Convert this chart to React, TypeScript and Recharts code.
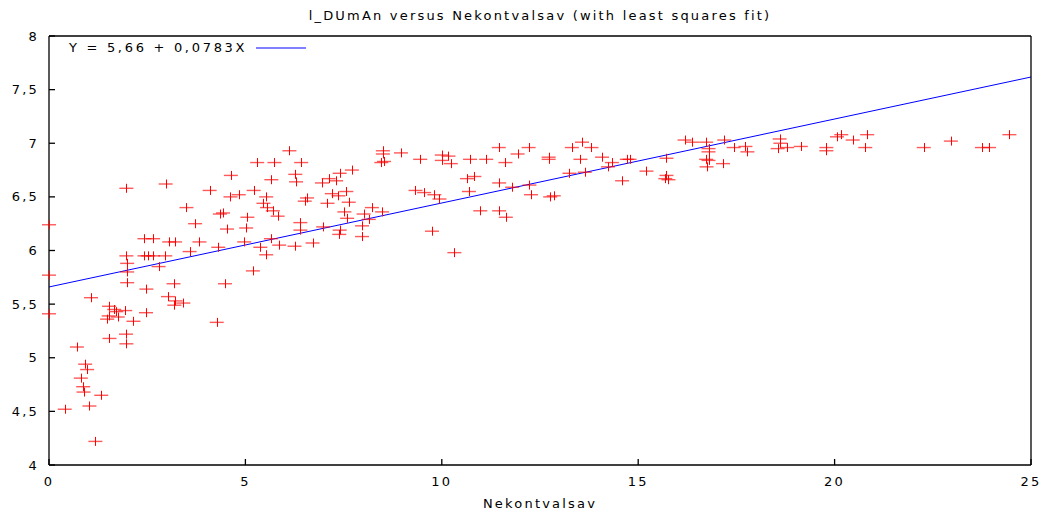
import React from 'react';
import { ScatterChart, Scatter, XAxis, YAxis, ReferenceLine, Legend } from 'recharts';

const chartTitle = 'l_DUmAn versus Nekontvalsav (with least squares fit)';
const xAxisLabel = 'Nekontvalsav';
const xTicks = [0, 5, 10, 15, 20, 25];
const yTicks = [4, 4.5, 5, 5.5, 6, 6.5, 7, 7.5, 8];

const fitIntercept = 5.66;
const fitSlope = 0.0783;
const fitRange = [0, 25];
const fitLabel = 'Y = 5,66 + 0,0783X';

const nekontvalsav = [
  0.0, 0.0, 0.0, 0.40, 0.71, 0.92, 0.97, 0.81, 0.87, 0.88,
  1.33, 1.03, 1.18, 1.07, 1.53, 1.52, 1.66, 1.71, 1.75, 1.48,
  1.94, 2.15, 1.54, 1.96, 1.97, 2.47, 2.48, 1.99, 1.99, 1.99,
  1.97, 1.97, 2.97, 2.43, 2.65, 2.43, 2.52, 2.65, 2.96, 2.79,
  3.06, 3.21, 3.58, 3.83, 4.31, 4.97, 5.19, 4.48, 3.17, 3.03,
  3.22, 3.19, 3.42, 4.27, 3.50, 3.72, 4.09, 4.63, 4.62, 4.83,
  4.35, 4.43, 4.53, 5.02, 5.05, 5.21, 6.12, 5.30, 5.74, 6.42,
  6.27, 6.29, 5.66, 5.53, 5.46, 5.55, 5.70, 5.82, 6.40, 6.40,
  6.98, 7.40, 7.39, 7.12, 7.40, 7.71, 7.31, 6.95, 7.20, 7.57,
  7.63, 7.37, 7.09, 6.51, 6.57, 7.52, 7.59, 5.65, 5.38, 5.53,
  5.86, 6.25, 6.71, 8.50, 8.50, 8.96, 8.46, 8.53, 9.45, 10.00,
  10.17, 10.00, 10.23, 10.72, 11.13, 11.45, 11.62, 11.93, 8.01, 8.22,
  8.48, 8.14, 7.97, 7.97, 9.33, 9.55, 9.81, 9.94, 9.75, 10.32,
  10.64, 10.83, 10.69, 10.98, 11.46, 11.63, 11.46, 11.79, 12.21, 12.72,
  12.72, 13.31, 13.57, 13.81, 13.53, 14.08, 14.33, 14.71, 14.78, 15.72,
  14.59, 15.21, 15.72, 15.69, 15.77, 14.23, 13.64, 13.25, 12.23, 12.27,
  12.76, 12.85, 16.18, 16.37, 16.73, 17.19, 17.43, 17.73, 17.78, 16.79,
  16.79, 16.73, 16.79, 16.74, 17.16, 18.60, 18.62, 18.55, 18.79, 19.14,
  19.79, 19.79, 20.06, 20.17, 20.46, 20.83, 20.78, 22.27, 22.96, 23.75,
  23.93, 24.45,
];

const lDUmAn = [
  6.24, 5.77, 5.41, 4.52, 5.10, 4.94, 4.89, 4.81, 4.73, 4.68,
  4.65, 4.55, 4.22, 5.56, 5.48, 5.39, 5.45, 5.43, 5.38, 5.36,
  5.44, 5.34, 5.18, 5.22, 5.13, 5.42, 5.64, 5.70, 5.80, 5.88,
  5.95, 6.58, 6.62, 6.11, 6.11, 5.95, 5.95, 5.95, 5.95, 5.85,
  6.08, 6.08, 5.99, 6.08, 6.03, 6.08, 5.81, 5.69, 5.69, 5.57,
  5.53, 5.49, 5.51, 5.33, 6.40, 6.25, 6.56, 6.70, 6.50, 6.52,
  6.34, 6.35, 6.20, 6.21, 6.31, 6.56, 6.93, 6.82, 6.82, 6.82,
  6.71, 6.64, 6.66, 6.50, 6.44, 6.40, 6.37, 6.32, 6.26, 6.19,
  6.22, 6.19, 6.15, 6.67, 6.72, 6.75, 6.65, 6.63, 6.53, 6.55,
  6.45, 6.51, 6.44, 6.46, 6.49, 6.36, 6.30, 6.11, 6.03, 5.96,
  6.05, 6.04, 6.07, 6.93, 6.90, 6.91, 6.82, 6.83, 6.85, 6.89,
  6.88, 6.84, 6.81, 6.85, 6.85, 6.96, 6.82, 6.90, 6.34, 6.40,
  6.36, 6.29, 6.23, 6.13, 6.56, 6.54, 6.52, 6.48, 6.18, 5.98,
  6.67, 6.69, 6.55, 6.37, 6.37, 6.31, 6.63, 6.59, 6.96, 6.87,
  6.85, 6.96, 7.01, 6.96, 6.85, 6.87, 6.82, 6.85, 6.85, 6.86,
  6.65, 6.74, 6.70, 6.67, 6.66, 6.78, 6.73, 6.72, 6.61, 6.52,
  6.50, 6.51, 7.03, 7.01, 7.01, 7.03, 6.96, 6.97, 6.92, 6.95,
  6.92, 6.85, 6.84, 6.78, 6.81, 7.04, 7.00, 6.95, 6.96, 6.97,
  6.96, 6.93, 7.06, 7.08, 7.03, 7.08, 6.96, 6.96, 7.02, 6.96,
  6.96, 7.08,
];

const points = nekontvalsav.map((x, i) => ({ x, y: lDUmAn[i] }));
const fitSegment = fitRange.map((x) => ({ x, y: fitIntercept + fitSlope * x }));

const commaFormat = (v: number) => String(v).replace('.', ',');

const PlusMarker = (props: any) => {
  const { cx, cy } = props;
  if (cx == null || cy == null) return <g />;
  const vx = Math.round(cx) + 0.5;
  return (
    <g>
      <line x1={cx - 7} x2={cx + 7} y1={cy} y2={cy} stroke="#ff0000" strokeOpacity={0.65} strokeWidth={1.4} />
      <line x1={vx} x2={vx} y1={cy - 4.5} y2={cy + 4.5} stroke="#ff0000" strokeWidth={1} />
    </g>
  );
};

const renderLegend = () => (
  <div style={{ display: 'flex', alignItems: 'center', whiteSpace: 'nowrap' }}>
    <span style={{ fontSize: 13, letterSpacing: '2.7px', color: '#000', lineHeight: '15px' }}>{fitLabel}</span>
    <svg width={50} height={4} style={{ marginLeft: 9 }}>
      <line x1={0} x2={50} y1={2} y2={2} stroke="#0000ff" strokeWidth={1} />
    </svg>
  </div>
);

const axisStroke = '#000';

export default function App() {
  return (
    <div
      style={{
        position: 'absolute',
        left: 0,
        top: 0,
        width: 1043,
        height: 513,
        background: '#fff',
        fontFamily: '"DejaVu Sans", sans-serif',
        fontSize: 13,
        letterSpacing: '2.2px',
      }}
    >
      <div
        style={{
          position: 'absolute',
          left: 49,
          width: 982,
          top: 8,
          textAlign: 'center',
          lineHeight: '15px',
          color: '#000',
        }}
      >
        {chartTitle}
      </div>
      <ScatterChart width={1043} height={513} margin={{ top: 35, right: 0, bottom: 0, left: 0 }}>
        <XAxis
          xAxisId="b"
          type="number"
          dataKey="x"
          domain={[0, 25]}
          ticks={xTicks}
          interval={0}
          height={48}
          tickSize={-6}
          tickMargin={18}
          stroke={axisStroke}
          strokeWidth={1.3}
          tick={{ fill: '#000', fontSize: 13 }}
          label={{ value: xAxisLabel, position: 'insideBottom', offset: 5, fill: '#000', fontSize: 13 }}
        />
        <XAxis
          xAxisId="t"
          orientation="top"
          type="number"
          dataKey="x"
          domain={[0, 25]}
          ticks={xTicks}
          interval={0}
          height={1}
          tickSize={-6}
          tickFormatter={() => ''}
          stroke={axisStroke}
          strokeWidth={1.3}
        />
        <YAxis
          yAxisId="l"
          type="number"
          dataKey="y"
          domain={[4, 8]}
          ticks={yTicks}
          interval={0}
          width={49}
          tickSize={-6}
          tickMargin={16}
          tickFormatter={commaFormat}
          stroke={axisStroke}
          strokeWidth={1.3}
          tick={{ fill: '#000', fontSize: 13 }}
        />
        <YAxis
          yAxisId="r"
          orientation="right"
          type="number"
          dataKey="y"
          domain={[4, 8]}
          ticks={yTicks}
          interval={0}
          width={12}
          tickSize={-6}
          tickFormatter={() => ''}
          stroke={axisStroke}
          strokeWidth={1.3}
        />
        <ReferenceLine
          xAxisId="b"
          yAxisId="l"
          segment={fitSegment}
          stroke="#0000ff"
          strokeWidth={1}
          ifOverflow="visible"
        />
        <Scatter
          xAxisId="b"
          yAxisId="l"
          data={points}
          shape={PlusMarker}
          isAnimationActive={false}
        />
        <Legend
          content={renderLegend}
          layout="vertical"
          verticalAlign="middle"
          align="center"
          wrapperStyle={{ left: 69, top: 40, width: 'auto', right: 'auto', bottom: 'auto' }}
        />
      </ScatterChart>
    </div>
  );
}
